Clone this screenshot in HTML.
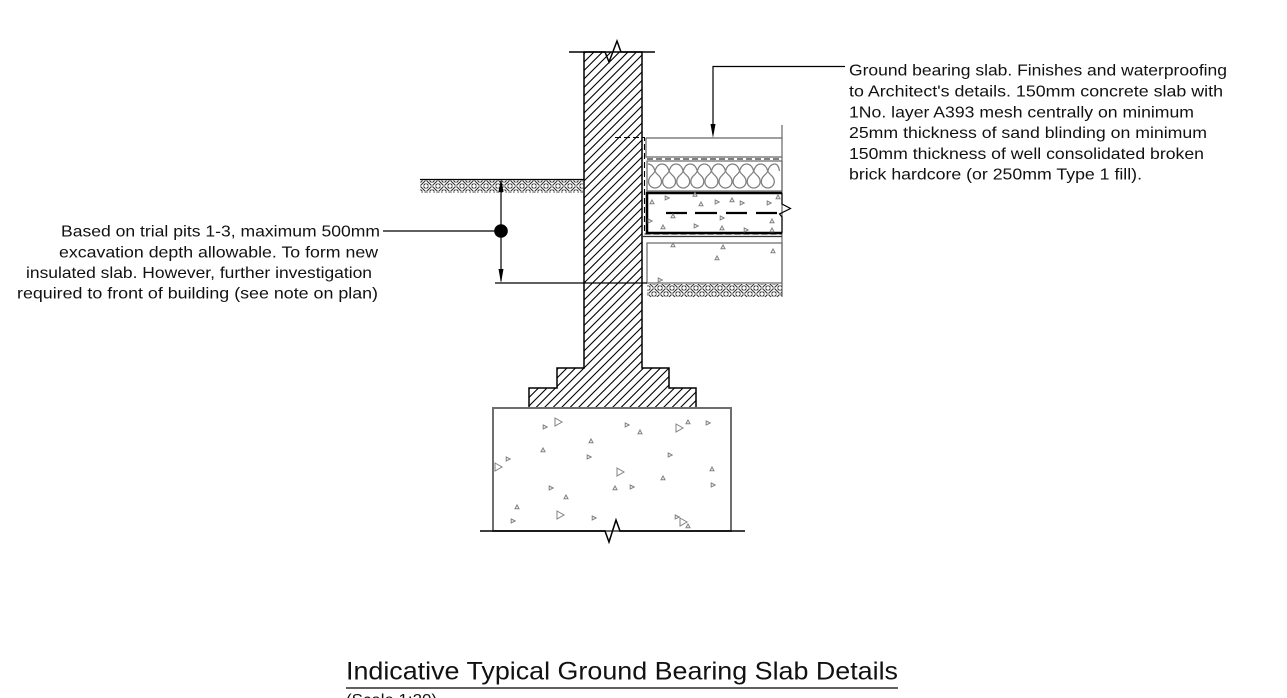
<!DOCTYPE html>
<html>
<head>
<meta charset="utf-8">
<style>
  html,body{margin:0;padding:0;background:#fff;}
  svg{display:block;}
  text{font-family:"Liberation Sans",sans-serif;fill:#111;}
</style>
</head>
<body>
<svg width="1287" height="698" viewBox="0 0 1287 698" xmlns="http://www.w3.org/2000/svg">
  <defs>
    <pattern id="hatch" patternUnits="userSpaceOnUse" width="8.5" height="8.5">
      <path d="M0,8.5 L8.5,0 M-1,1 L1,-1 M7.5,9.5 L9.5,7.5" stroke="#000" stroke-width="1.1" fill="none"/>
    </pattern>
    <pattern id="earth" patternUnits="userSpaceOnUse" width="12" height="12">
      <g stroke="#333" stroke-width="1.1" fill="none">
        <path d="M0.5,5.5 L5.5,0.5 M0.5,2.5 L2.5,0.5 M3.5,5.5 L5.5,3.5"/>
        <path d="M6.5,0.5 L11.5,5.5 M9.5,0.5 L11.5,2.5 M6.5,3.5 L8.5,5.5"/>
        <path d="M0.5,6.5 L5.5,11.5 M3.5,6.5 L5.5,8.5 M0.5,9.5 L2.5,11.5"/>
        <path d="M6.5,11.5 L11.5,6.5 M6.5,8.5 L8.5,6.5 M9.5,11.5 L11.5,9.5"/>
      </g>
    </pattern>
    <path id="ts" d="M0,-2 L2,1.8 L-2,1.8 Z"/>
    <path id="tr" d="M-1.8,-2 L2.2,0 L-1.8,2 Z"/>
    <path id="tb" d="M-3,-4 L4,0 L-3,4 Z"/>
  </defs>

  <rect x="0" y="0" width="1287" height="698" fill="#fff"/>

  <!-- left ground -->
  <rect x="420" y="180" width="163" height="13" fill="url(#earth)"/>
  <line x1="420" y1="179.5" x2="584" y2="179.5" stroke="#000" stroke-width="1.2"/>

  <!-- ground under slab -->
  <rect x="647" y="284" width="135" height="13" fill="url(#earth)"/>

  <!-- wall + stepped footing -->
  <path d="M584,52 L642,52 L642,368 L669,368 L669,388 L696,388 L696,408 L529,408 L529,388 L557,388 L557,368 L584,368 Z"
        fill="url(#hatch)" stroke="#000" stroke-width="1.5"/>
  <!-- top break line -->
  <path d="M569,52 L605,52 L609,62 L617,41 L621,52 L655,52" fill="none" stroke="#000" stroke-width="1.5"/>

  <!-- concrete footing -->
  <rect x="493" y="408" width="238" height="123" fill="none" stroke="#6e6e6e" stroke-width="2"/>
  <!-- bottom ground line with break -->
  <path d="M480,531 L605,531 L609,542 L616,520 L620,531 L745,531" fill="none" stroke="#000" stroke-width="1.5"/>

  <!-- slab build-up -->
  <g fill="none" stroke="#666" stroke-width="1.2">
    <line x1="782" y1="125" x2="782" y2="297"/>
    <path d="M646,138 L782,138 M646,138 L646,157 L782,157"/>
    <rect x="647" y="161" width="135" height="30"/>
    <rect x="647" y="243" width="135" height="40"/>
  </g>
  <!-- DPM dashed -->
  <g fill="none" stroke="#000" stroke-width="1.1" stroke-dasharray="6 3">
    <path d="M615,137.5 L644.5,137.5 L644.5,234 L782,234"/>
    <line x1="647" y1="159" x2="782" y2="159"/>
  </g>
  <line x1="642" y1="236.5" x2="782" y2="236.5" stroke="#333" stroke-width="1.2"/>

  <!-- insulation -->
  <g fill="none" stroke="#808080" stroke-width="1.3">
    <path id="ins" d="M647.95,164 C651.5,164 653.8,167 655,171 C656,174.5 661.5,176 661.5,181.5 A6.5,6.5 0 0 1 648.5,181.5 C648.5,176 654,174.5 655,171 C656.2,167 658.5,164 662.05,164"/>
    <use href="#ins" x="14.1"/>
    <use href="#ins" x="28.2"/>
    <use href="#ins" x="42.3"/>
    <use href="#ins" x="56.4"/>
    <use href="#ins" x="70.5"/>
    <use href="#ins" x="84.6"/>
    <use href="#ins" x="98.7"/>
    <use href="#ins" x="112.8"/>
    <path d="M774.85,164 C778,164 779,168 779.5,171"/>
  </g>

  <!-- concrete slab -->
  <path d="M782,193 L647,193 L647,233 L782,233" fill="none" stroke="#000" stroke-width="2.5"/>
  <path d="M782,193 L782,204 L790.5,208.5 L779.5,214 L782,217 L782,233" fill="none" stroke="#000" stroke-width="1.2"/>
  <!-- mesh -->
  <g stroke="#000" stroke-width="2.2">
    <line x1="666" y1="213" x2="687" y2="213"/>
    <line x1="695" y1="213" x2="717" y2="213"/>
    <line x1="726" y1="213" x2="747" y2="213"/>
    <line x1="756" y1="213" x2="777" y2="213"/>
  </g>

  <!-- aggregate triangles -->
  <g fill="none" stroke="#808080" stroke-width="1">
    <!-- slab -->
    <use href="#ts" x="652" y="202"/><use href="#tr" x="667" y="198"/><use href="#ts" x="695" y="194.5"/>
    <use href="#ts" x="701" y="204"/><use href="#tr" x="717" y="202"/>
    <use href="#ts" x="732" y="200"/><use href="#tr" x="742" y="203"/>
    <use href="#tr" x="769" y="203"/><use href="#ts" x="778" y="197"/><use href="#ts" x="673" y="216"/>
    <use href="#tr" x="650" y="221"/><use href="#tr" x="722" y="218"/>
    <use href="#ts" x="663" y="227"/><use href="#tr" x="696" y="226"/>
    <use href="#ts" x="722" y="228"/><use href="#tr" x="746" y="230"/><use href="#ts" x="772" y="221"/>
    <use href="#ts" x="772" y="230"/>
    <!-- hardcore -->
    <use href="#ts" x="673" y="245"/><use href="#ts" x="723" y="247"/><use href="#ts" x="773" y="251"/>
    <use href="#ts" x="717" y="258"/><use href="#tr" x="660" y="280"/>
    <!-- footing -->
    <use href="#tr" x="545" y="427"/><use href="#tb" x="558" y="422"/><use href="#tr" x="627" y="425"/>
    <use href="#ts" x="640" y="432"/><use href="#tb" x="679" y="428"/><use href="#ts" x="688" y="422"/>
    <use href="#tr" x="708" y="423"/><use href="#ts" x="591" y="441"/><use href="#ts" x="543" y="450"/>
    <use href="#tr" x="589" y="457"/><use href="#tr" x="670" y="455"/><use href="#tb" x="498" y="467"/>
    <use href="#tr" x="508" y="459"/><use href="#tb" x="620" y="472"/><use href="#ts" x="712" y="469"/>
    <use href="#ts" x="663" y="478"/><use href="#ts" x="615" y="488"/><use href="#tr" x="632" y="487"/>
    <use href="#tr" x="713" y="485"/><use href="#tr" x="551" y="488"/><use href="#ts" x="566" y="497"/>
    <use href="#ts" x="517" y="507"/><use href="#tb" x="560" y="515"/><use href="#tr" x="513" y="521"/>
    <use href="#tr" x="594" y="518"/><use href="#tr" x="677" y="517"/><use href="#tb" x="683" y="522"/>
    <use href="#ts" x="688" y="526"/>
  </g>

  <!-- line at formation level -->
  <line x1="495" y1="283" x2="647" y2="283" stroke="#000" stroke-width="1.2"/>

  <!-- dimension -->
  <line x1="501" y1="181" x2="501" y2="281" stroke="#000" stroke-width="1.2"/>
  <path d="M501,179 L503.5,192 L498.5,192 Z" fill="#000"/>
  <path d="M501,283 L503.5,269 L498.5,269 Z" fill="#000"/>
  <circle cx="501" cy="231" r="6.8" fill="#000"/>
  <line x1="383" y1="231" x2="501" y2="231" stroke="#000" stroke-width="1.2"/>

  <!-- right leader -->
  <path d="M845,66.5 L713,66.5 L713,126" fill="none" stroke="#000" stroke-width="1.2"/>
  <path d="M713,138 L715.5,124 L710.5,124 Z" fill="#000"/>

  <!-- left note -->
  <g font-size="16">
    <text x="61" y="236.5" textLength="319" lengthAdjust="spacingAndGlyphs">Based on trial pits 1-3, maximum 500mm</text>
    <text x="59" y="257.3" textLength="319" lengthAdjust="spacingAndGlyphs">excavation depth allowable. To form new</text>
    <text x="26" y="278" textLength="346" lengthAdjust="spacingAndGlyphs">insulated slab. However, further investigation</text>
    <text x="17" y="298.5" textLength="361" lengthAdjust="spacingAndGlyphs">required to front of building (see note on plan)</text>
  </g>

  <!-- right note -->
  <g font-size="16">
    <text x="849" y="75.7" textLength="378" lengthAdjust="spacingAndGlyphs">Ground bearing slab. Finishes and waterproofing</text>
    <text x="849" y="96.5" textLength="374" lengthAdjust="spacingAndGlyphs">to Architect's details. 150mm concrete slab with</text>
    <text x="849" y="117.3" textLength="345" lengthAdjust="spacingAndGlyphs">1No. layer A393 mesh centrally on minimum</text>
    <text x="849" y="138.1" textLength="358" lengthAdjust="spacingAndGlyphs">25mm thickness of sand blinding on minimum</text>
    <text x="849" y="158.9" textLength="355" lengthAdjust="spacingAndGlyphs">150mm thickness of well consolidated broken</text>
    <text x="849" y="179.7" textLength="293" lengthAdjust="spacingAndGlyphs">brick hardcore (or 250mm Type 1 fill).</text>
  </g>

  <!-- title -->
  <text x="346" y="679.5" font-size="25" textLength="552" lengthAdjust="spacingAndGlyphs">Indicative Typical Ground Bearing Slab Details</text>
  <line x1="346" y1="688" x2="898" y2="688" stroke="#000" stroke-width="1.3"/>
  <text x="346" y="705" font-size="16" textLength="91" lengthAdjust="spacingAndGlyphs">(Scale 1:20)</text>
</svg>
</body>
</html>
